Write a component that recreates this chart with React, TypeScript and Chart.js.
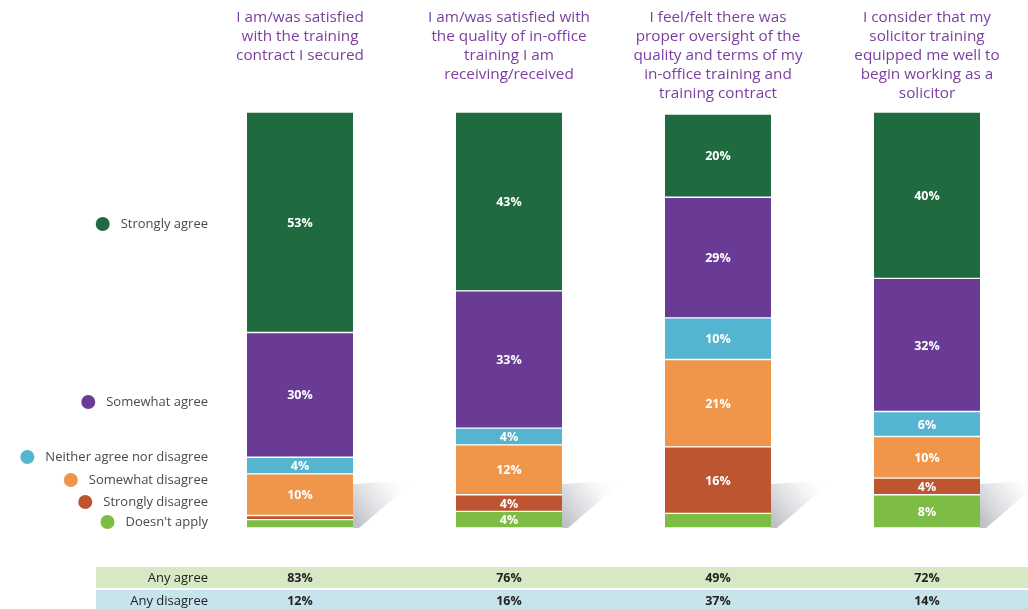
import React, { useEffect, useRef } from "react";
import { Chart, registerables } from "chart.js";

Chart.register(...registerables);

const questions: string[][] = [
  ["I am/was satisfied", "with the training", "contract I secured"],
  ["I am/was satisfied with", "the quality of in-office", "training I am", "receiving/received"],
  ["I feel/felt there was", "proper oversight of the", "quality and terms of my", "in-office training and", "training contract"],
  ["I consider that my", "solicitor training", "equipped me well to", "begin working as a", "solicitor"],
];

const seriesNames = [
  "Strongly agree",
  "Somewhat agree",
  "Neither agree nor disagree",
  "Somewhat disagree",
  "Strongly disagree",
  "Doesn't apply",
];

const stronglyAgree = [53, 43, 20, 40];
const somewhatAgree = [30, 33, 29, 32];
const neither = [4, 4, 10, 6];
const somewhatDisagree = [10, 12, 21, 10];
const stronglyDisagree = [1, 4, 16, 4];
const doesntApply = [2, 4, 3.5, 8];

const anyAgree = [83, 76, 49, 72];
const anyDisagree = [12, 16, 37, 14];
const summaryLabels = ["Any agree", "Any disagree"];

const colors = ["#1f6a3e", "#6a3b95", "#55b4cf", "#f0964a", "#bd5530", "#7dbd45"];
const legendY = [224, 402, 457, 480, 502, 522];

const FONT = "'Open Sans', 'DejaVu Sans', sans-serif";

export default function App() {
  const ref = useRef<HTMLCanvasElement | null>(null);

  useEffect(() => {
    if (!ref.current) return;
    const seriesValues = [stronglyAgree, somewhatAgree, neither, somewhatDisagree, stronglyDisagree, doesntApply];
    const datasets = seriesNames
      .map((name, i) => ({
        label: name,
        data: seriesValues[i],
        backgroundColor: colors[i],
        borderColor: "#ffffff",
        borderWidth: { top: 1, bottom: 1, left: 0, right: 0 },
        borderSkipped: false as const,
        barThickness: 106,
        clip: false as const,
      }))
      .reverse();

    const decor = {
      id: "decor",
      beforeDatasetsDraw(chart: any) {
        const ctx = chart.ctx;
        const meta = chart.getDatasetMeta(0);
        ctx.save();
        meta.data.forEach((bar: any) => {
          const right = bar.x + bar.width / 2;
          const bottom = bar.base;
          const g = ctx.createLinearGradient(right, bottom - 10, right + 55, bottom - 50);
          g.addColorStop(0, "rgba(165,167,175,0.7)");
          g.addColorStop(0.5, "rgba(210,211,216,0.45)");
          g.addColorStop(1, "rgba(255,255,255,0)");
          ctx.fillStyle = g;
          ctx.beginPath();
          ctx.moveTo(right, bottom - 44);
          ctx.lineTo(right + 62, bottom - 48);
          ctx.lineTo(right + 6, bottom);
          ctx.lineTo(right, bottom);
          ctx.closePath();
          ctx.fill();
        });
        ctx.restore();
      },
      afterDatasetsDraw(chart: any) {
        const ctx = chart.ctx;
        ctx.save();
        ctx.fillStyle = "#ffffff";
        ctx.font = `bold 12.5px ${FONT}`;
        ctx.textAlign = "center";
        ctx.textBaseline = "middle";
        chart.data.datasets.forEach((ds: any, di: number) => {
          const meta = chart.getDatasetMeta(di);
          meta.data.forEach((bar: any, i: number) => {
            const v = ds.data[i];
            if (v >= 4) {
              ctx.fillText(`${v}%`, bar.x, (bar.y + bar.base) / 2 + 1);
            }
          });
        });
        ctx.restore();
      },
      afterDraw(chart: any) {
        const ctx = chart.ctx;
        const xs = chart.scales.x;
        ctx.save();
        // titles
        ctx.fillStyle = "#7a3f9f";
        ctx.font = `15.3px ${FONT}`;
        ctx.textAlign = "center";
        ctx.textBaseline = "middle";
        questions.forEach((lines, i) => {
          const x = xs.getPixelForValue(i);
          lines.forEach((line, li) => {
            ctx.fillText(line, x, 18 + li * 18.8);
          });
        });
        // legend
        ctx.font = `13px ${FONT}`;
        ctx.textAlign = "right";
        seriesNames.forEach((name, i) => {
          const y = legendY[i];
          ctx.fillStyle = "#4a4a4a";
          ctx.fillText(name, 208, y);
          const w = ctx.measureText(name).width;
          ctx.fillStyle = colors[i];
          ctx.beginPath();
          ctx.arc(208 - w - 18, y, 7, 0, Math.PI * 2);
          ctx.fill();
        });
        // summary table
        const rows = [anyAgree, anyDisagree];
        const rowBg = ["#d7e8c5", "#c7e3eb"];
        const rowTop = [567, 590];
        rows.forEach((vals, r) => {
          ctx.fillStyle = rowBg[r];
          ctx.fillRect(96, rowTop[r], 1028 - 96, 21);
          ctx.fillStyle = "#222222";
          ctx.textAlign = "right";
          ctx.font = `13px ${FONT}`;
          ctx.fillText(summaryLabels[r], 208, rowTop[r] + 11);
          ctx.textAlign = "center";
          ctx.font = `bold 12.5px ${FONT}`;
          vals.forEach((v, i) => {
            ctx.fillText(`${v}%`, xs.getPixelForValue(i), rowTop[r] + 11);
          });
        });
        ctx.restore();
      },
    };

    const chart = new Chart(ref.current, {
      type: "bar",
      data: { labels: questions.map((q) => q.join(" ")), datasets: datasets as any },
      options: {
        animation: false,
        responsive: false,
        devicePixelRatio: 1,
        layout: { padding: { left: 300, right: 101, top: 112, bottom: 81 } },
        plugins: { legend: { display: false }, tooltip: { enabled: false } },
        scales: {
          x: { display: false, stacked: true, offset: false, grid: { display: false } },
          y: { display: false, stacked: true, min: 0, max: 100, grid: { display: false } },
        },
      },
      plugins: [decor],
    });
    return () => chart.destroy();
  }, []);

  return (
    <div style={{ position: "absolute", left: 0, top: 0, width: 1028, height: 609, background: "#fff" }}>
      <canvas ref={ref} width={1028} height={609} style={{ width: 1028, height: 609 }} />
    </div>
  );
}
